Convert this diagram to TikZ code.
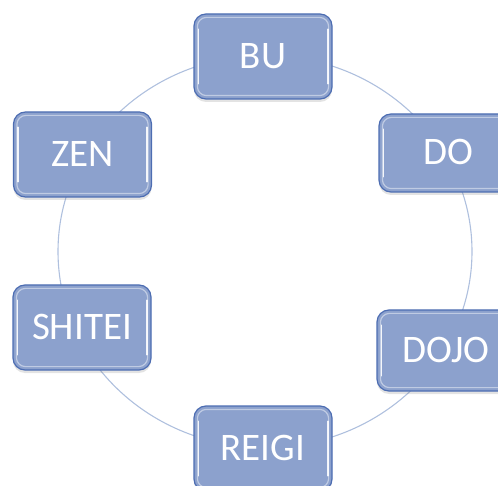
\documentclass[tikz,border=0pt]{standalone}
\usepackage{fontspec}
\setmainfont{Carlito}
\usetikzlibrary{shadows}
\definecolor{cardfill}{HTML}{8CA1CD}
\definecolor{cardedge}{HTML}{4D6DB2}
\definecolor{ringline}{HTML}{AFC0DE}
\tikzset{
  ring/.style={draw=ringline, line width=1.1pt},
  card/.style={draw=cardedge, line width=1.2pt, fill=cardfill,
    rounded corners=12pt, minimum width=138pt, minimum height=85pt,
    inner sep=0pt, text=white, font=\fontsize{39}{39}\selectfont,
    drop shadow={opacity=0.22, shadow xshift=0pt, shadow yshift=-3pt}},
  gloss/.style={draw=white, line width=1.2pt, opacity=0.45, rounded corners=9pt},
  glint/.style={draw=white, line width=1.8pt, opacity=0.9, line cap=round},
}
\begin{document}
\begin{tikzpicture}[x=1pt,y=-1pt]
\useasboundingbox (0,0) rectangle (498,486);
% ring behind the cards
\draw[ring] (265,251.5) ellipse [x radius=207, y radius=196];
% cards
\node[card] (bu) at (263,56.5) {\raisebox{2pt}{BU}};
\node[card, minimum height=78pt] (do) at (448,153) {\raisebox{2pt}{DO}};
\node[card, minimum height=81pt] (dojo) at (446,350.5) {\raisebox{2pt}{DOJO}};
\node[card] (reigi) at (263,448.5) {\raisebox{2pt}{REIGI}};
\node[card] (shitei) at (82,327.5) {\raisebox{2pt}{SHITEI}};
\node[card] (zen) at (82.5,154.5) {\raisebox{2pt}{ZEN}};
% glossy inner rim on each card, brightest along the sides
\foreach \n in {bu,do,dojo,reigi,shitei,zen}{
  \draw[gloss] ([shift={(4pt,-4pt)}]\n.north west) rectangle ([shift={(-4pt,4pt)}]\n.south east);
  \draw[glint] ([shift={(5pt,-16pt)}]\n.north west) -- ([shift={(5pt,16pt)}]\n.south west);
  \draw[glint] ([shift={(-5pt,-16pt)}]\n.north east) -- ([shift={(-5pt,16pt)}]\n.south east);
}
\end{tikzpicture}
\end{document}
